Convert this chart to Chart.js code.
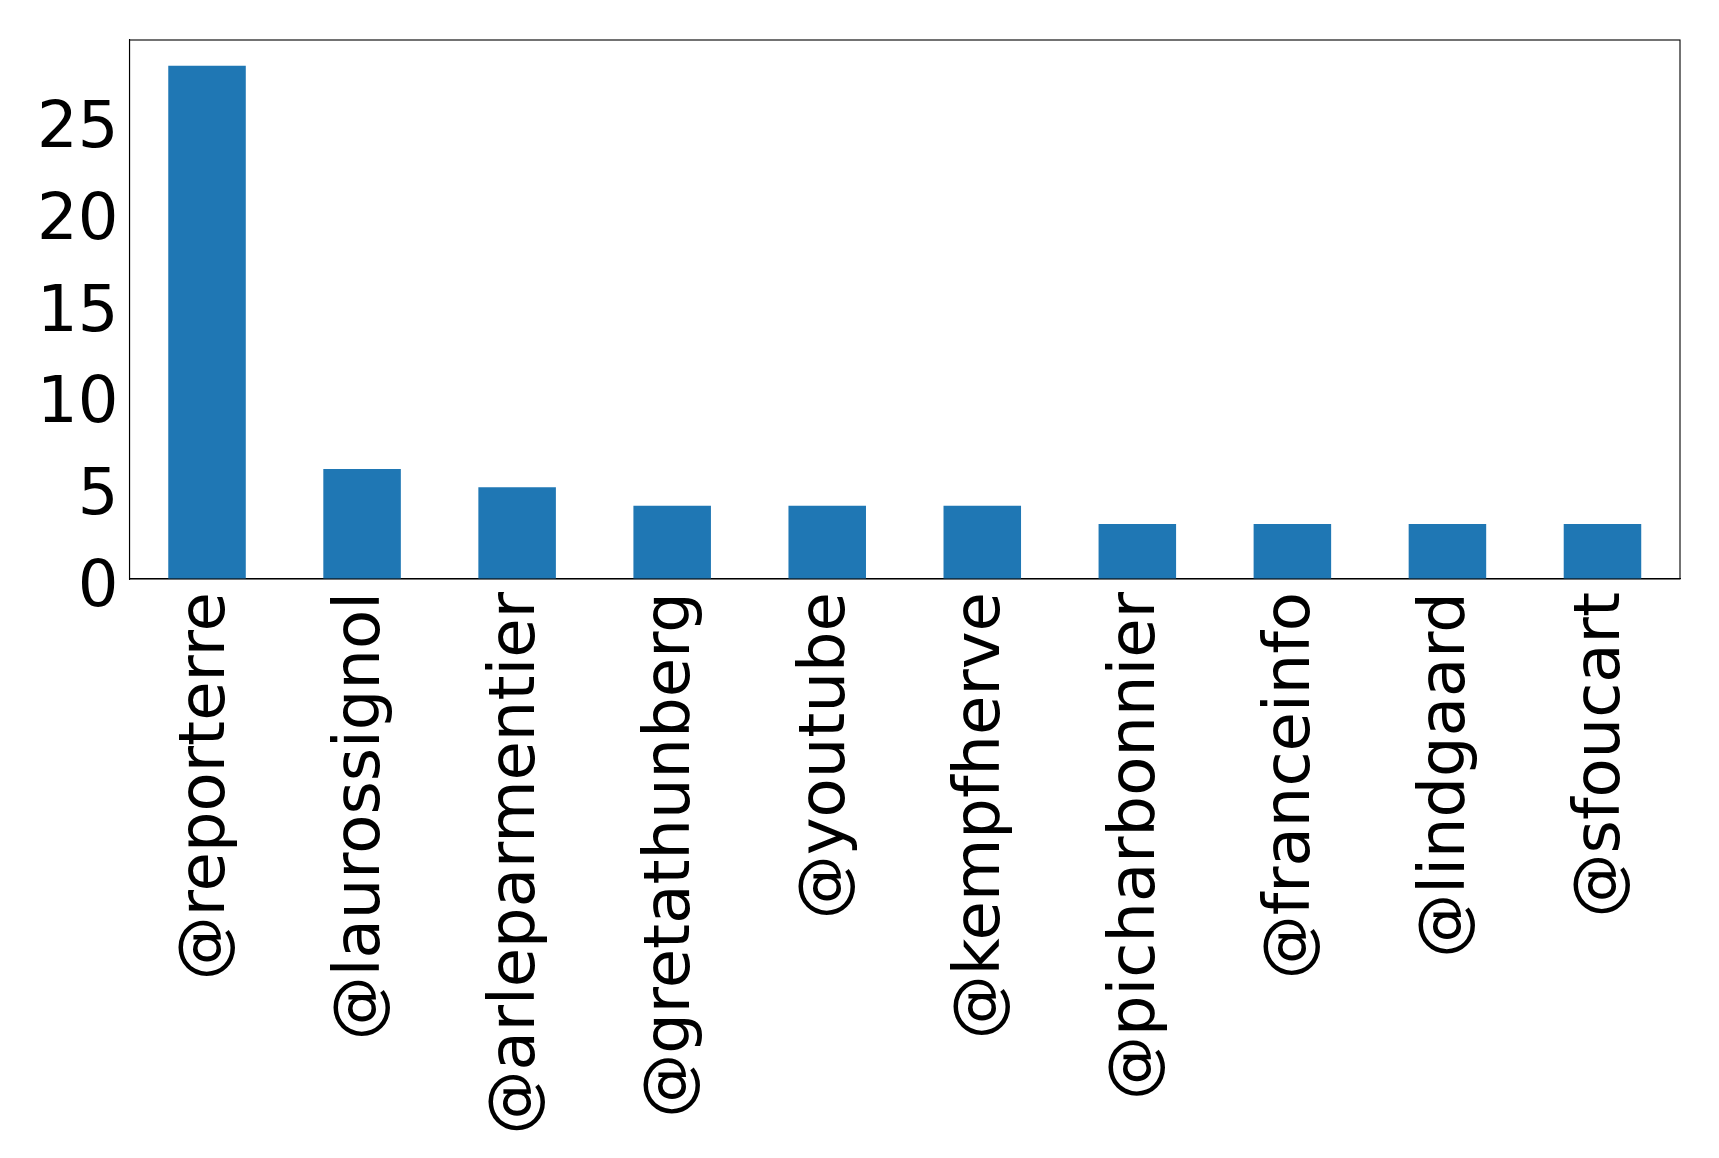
<!DOCTYPE html>
<html>
<head>
<meta charset="utf-8">
<script src="https://cdn.jsdelivr.net/npm/chart.js@4"></script>
<style>
  body { margin: 0; background: #fff; }
  canvas { display: block; }
</style>
</head>
<body>
<canvas id="mentionsChart" width="1719" height="1158"></canvas>
<script>
const categories = ['@reporterre', '@laurossignol', '@arleparmentier', '@gretathunberg', '@youtube',
  '@kempfherve', '@picharbonnier', '@franceinfo', '@lindgaard', '@sfoucart'];
const counts = [28, 6, 5, 4, 4, 4, 3, 3, 3, 3];
const yTicks = [0, 5, 10, 15, 20, 25];

// matplotlib-style frame on all four sides
const frame = {
  id: 'frame',
  afterDraw(chart) {
    const a = chart.chartArea;
    const ctx = chart.ctx;
    ctx.save();
    ctx.strokeStyle = '#000';
    ctx.lineWidth = 1.1;
    ctx.strokeRect(a.left, a.top, a.right - a.left, a.bottom - a.top);
    ctx.restore();
  }
};

const ctx = document.getElementById('mentionsChart').getContext('2d');
new Chart(ctx, {
  type: 'bar',
  data: {
    labels: categories,
    datasets: [{
      data: counts,
      backgroundColor: '#1f77b4',
      borderWidth: 0,
      categoryPercentage: 1,
      barPercentage: 0.5
    }]
  },
  options: {
    responsive: false,
    animation: false,
    layout: { padding: { top: 40, right: 39, left: 0, bottom: 0 } },
    plugins: { legend: { display: false }, tooltip: { enabled: false } },
    scales: {
      x: {
        offset: true,
        grid: { display: false, drawTicks: true, tickLength: 5, color: '#000', offset: false },
        border: { color: '#000', width: 1.1 },
        ticks: {
          color: '#000',
          font: { family: 'DejaVu Sans', size: 64 },
          minRotation: 90,
          maxRotation: 90,
          autoSkip: false,
          padding: 8
        },
        afterFit(scale) {
          scale.height = 579;
          scale.paddingLeft = 0;
          scale.paddingRight = 0;
        }
      },
      y: {
        min: 0,
        max: 29.4,
        grid: { display: false, drawTicks: true, tickLength: 5, color: '#000' },
        border: { color: '#000', width: 1.1 },
        ticks: {
          color: '#000',
          font: { family: 'DejaVu Sans', size: 64 },
          padding: 6,
          labelOffset: 10
        },
        afterBuildTicks(scale) {
          scale.ticks = yTicks.map(v => ({ value: v }));
        },
        afterFit(scale) {
          scale.width = 129.5;
          scale.paddingTop = 0;
          scale.paddingBottom = 0;
        }
      }
    }
  },
  plugins: [frame]
});
</script>
</body>
</html>
